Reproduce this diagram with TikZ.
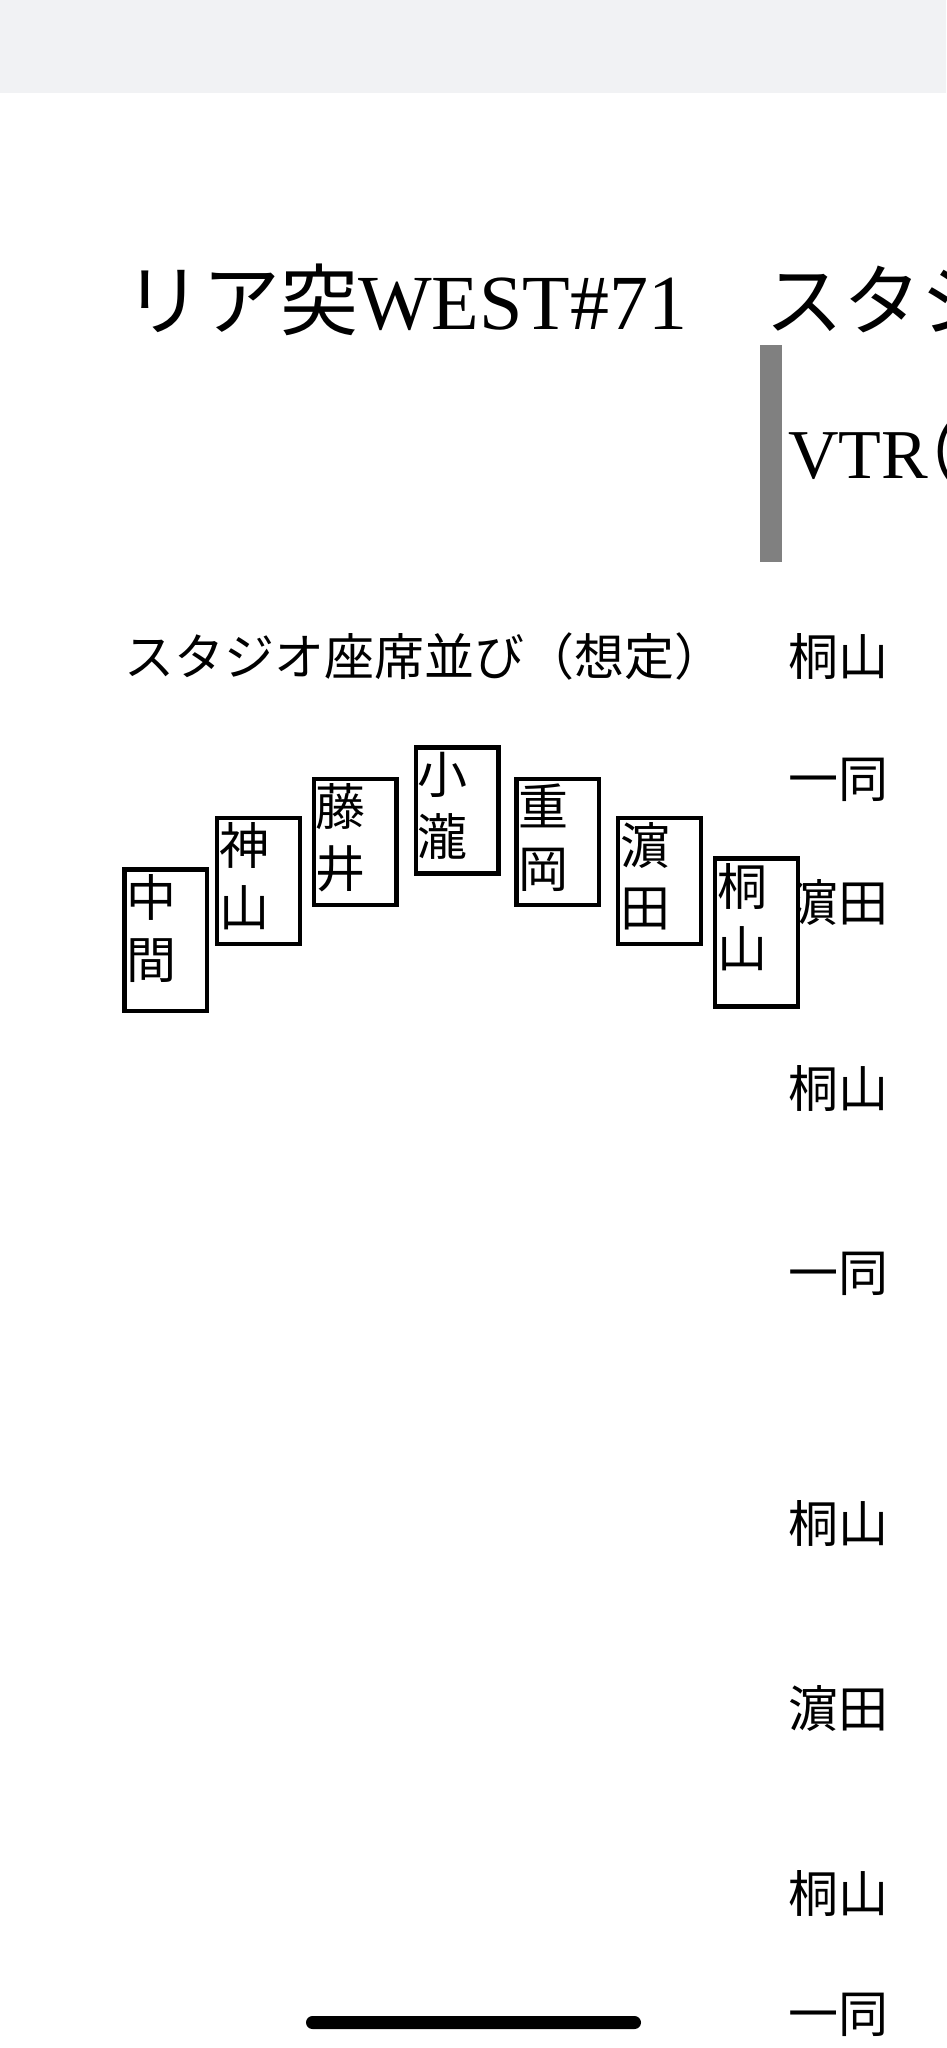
\documentclass[tikz,border=0pt]{standalone}
\usepackage{fontspec}
\setmainfont{Liberation Serif}
\newfontfamily\jp{Noto Sans CJK JP}
\usetikzlibrary{positioning}
\definecolor{statusgray}{HTML}{F1F2F4}
\definecolor{cuebar}{HTML}{808080}

\begin{document}
\begin{tikzpicture}[
  x=1pt, y=-1pt,
  heading/.style={inner sep=0pt, anchor=base west, font=\fontsize{78}{90}\selectfont},
  body/.style={inner sep=0pt, anchor=west, font=\jp\fontsize{50}{60}\selectfont},
  seat/.style={
    draw=black,
    fill=white,
    line width=4.3pt,
    minimum width=82.7pt,
    minimum height=126pt,
    inner sep=0pt,
    anchor=north west
  },
  seatname/.style={
    inner sep=0pt,
    anchor=north west,
    align=left,
    xshift=4pt,
    yshift=-7pt,
    font=\jp\fontsize{50}{62}\selectfont
  }
]
\useasboundingbox (0,0) rectangle (946,2048);
\clip (0,0) rectangle (946,2048);

% status bar
\fill[statusgray] (0,0) rectangle (946,93);

\node[heading] (title) at (124,329) {{\jp リア突}WEST\#71{\jp 　スタジ}};
\fill[cuebar] (760,345) rectangle (782,562);
\node[heading, font=\fontsize{70}{80}\selectfont] (vtr) at (788,478) {VTR{\jp\kern-0.55em （}};

\node[body] (layout) at (124,656) {スタジオ座席並び（想定）};

% script column
\node[body] (cue1) at (788,656) {桐山};
\node[body] (cue2) at (788,780) {一同};
\node[body] (cue3) at (788,902) {濵田};
\node[body] (cue4) at (788,1088) {桐山};
\node[body] (cue5) at (788,1274) {一同};
\node[body] (cue6) at (788,1523) {桐山};
\node[body] (cue7) at (788,1708) {濵田};
\node[body] (cue8) at (788,1893) {桐山};
\node[body] (cue9) at (788,2015) {一同};

% seats
\node[seat, minimum height=141.7pt] (nakama) at (122.2,867.2) {};
\node[seatname] at (nakama.north west) {中\\間};
\node[seat] (kamiyama) at (215,815.7) {};
\node[seatname] at (kamiyama.north west) {神\\山};
\node[seat] (fujii) at (311.7,776.5) {};
\node[seatname] at (fujii.north west) {藤\\井};
\node[seat] (kotaki) at (413.6,745.2) {};
\node[seatname] at (kotaki.north west) {小\\瀧};
\node[seat] (shigeoka) at (514.2,776.5) {};
\node[seatname] at (shigeoka.north west) {重\\岡};
\node[seat] (hamada) at (616.1,815.7) {};
\node[seatname] at (hamada.north west) {濵\\田};
\node[seat, minimum height=148pt] (kiriyama) at (712.8,856.2) {};
\node[seatname] at (kiriyama.north west) {桐\\山};

% home indicator
\fill[rounded corners=6.5pt] (306,2016) rectangle (641,2029);
\end{tikzpicture}
\end{document}
